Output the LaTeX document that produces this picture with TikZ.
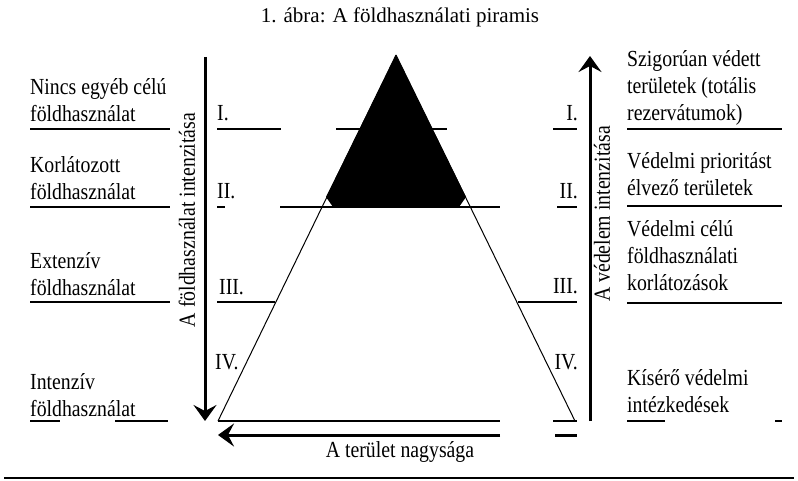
\documentclass[tikz,border=0pt]{standalone}
\usepackage{fontspec}
\setmainfont{Liberation Serif}
\newfontfamily\lblfont[FakeStretch=0.86]{Liberation Serif}
\usetikzlibrary{arrows.meta}
\begin{document}
\begin{tikzpicture}[x=1pt,y=-1pt,
  txt/.style={font=\lblfont\fontsize{23}{27}\selectfont, inner sep=0pt},
  lab/.style={txt, anchor=west, align=left},
  numl/.style={txt, anchor=west},
  numr/.style={txt, anchor=east},
  rule/.style={line width=1.8pt},
  side/.style={line width=1pt},
  bigarrow/.style={line width=3pt, -{Stealth[length=16pt,width=23pt,inset=6pt]}},
]
\useasboundingbox (0,0) rectangle (798,481);

\node[inner sep=0pt, font=\fontsize{21}{25}\selectfont] (title) at (400,17) {1. ábra: A földhasználati piramis};

% level lines behind the pyramid
\draw[rule] (336,129) -- (447,129);

% pyramid
\coordinate (apex) at (396,55);
\coordinate (bl) at (218,421);
\coordinate (br) at (575,421);
\fill (apex) -- (326,197) -- (333,207) -- (459,207) -- (466,197) -- cycle;
\draw[side] (apex) -- (bl);
\draw[side] (apex) -- (br);

% level I
\draw[rule] (30,129) -- (170,129);
\draw[rule] (217,129) -- (281,129);
\draw[rule] (553,129) -- (577,129);
\draw[rule] (627,129) -- (782,129);
% level II
\draw[rule] (30,207) -- (170,207);
\draw[rule] (217,207) -- (225,207);
\draw[rule] (280,207) -- (500,207);
\draw[rule] (557,207) -- (577,207);
\draw[rule] (627,206) -- (782,206);
% level III
\draw[rule] (30,302) -- (170,302);
\draw[rule] (217,302) -- (275,302);
\draw[rule] (518,302) -- (577,302);
\draw[rule] (627,303) -- (782,303);
% level IV / base
\draw[rule] (30,421) -- (60,421);
\draw[rule] (115,421) -- (168,421);
\draw[rule] (bl) -- (500,421);
\draw[rule] (553,421) -- (577,421);
\draw[rule] (627,421) -- (665,421);
\draw[rule] (775,421) -- (782,421);

% arrows
\coordinate (la1) at (205,57);
\coordinate (la2) at (205,421);
\draw[bigarrow] (la1) -- (la2);
\coordinate (ra1) at (590,421);
\coordinate (ra2) at (590,56);
\draw[bigarrow] (ra1) -- (ra2);
\coordinate (ba1) at (500,435);
\coordinate (ba2) at (218,435);
\draw[bigarrow] (ba1) -- (ba2);
\draw[line width=3pt] (555,435) -- (577,435);

% left labels
\node[lab] (l1) at (30,100) {Nincs egyéb célú\\földhasználat};
\node[lab] (l2) at (30,178) {Korlátozott\\földhasználat};
\node[lab] (l3) at (30,274) {Extenzív\\földhasználat};
\node[lab] (l4) at (30,395) {Intenzív\\földhasználat};

% right labels
\node[lab] (r1) at (627,88) {Szigorúan védett\\területek (totális\\rezervátumok)};
\node[lab] (r2) at (627,174) {Védelmi prioritást\\élvező területek};
\node[lab] (r3) at (627,256) {Védelmi célú\\földhasználati\\korlátozások};
\node[lab] (r4) at (627,391) {Kísérő védelmi\\intézkedések};

% numerals
\node[numl] (nl1) at (217,113) {I.};
\node[numl] (nl2) at (217,191) {II.};
\node[numl] (nl3) at (219,287) {III.};
\node[numl] (nl4) at (215,362) {IV.};
\node[numr] (nr1) at (578,113) {I.};
\node[numr] (nr2) at (578,191) {II.};
\node[numr] (nr3) at (578,286) {III.};
\node[numr] (nr4) at (578,362) {IV.};

% vertical texts
\node[txt, rotate=90] (lv) at (187,220) {A földhasználat intenzitása};
\node[txt, rotate=90] (rv) at (602,214) {A védelem intenzitása};

% bottom
\node[txt] (bt) at (400,452) {A terület nagysága};
\draw[line width=2pt] (4,478) -- (794,478);
\end{tikzpicture}
\end{document}
